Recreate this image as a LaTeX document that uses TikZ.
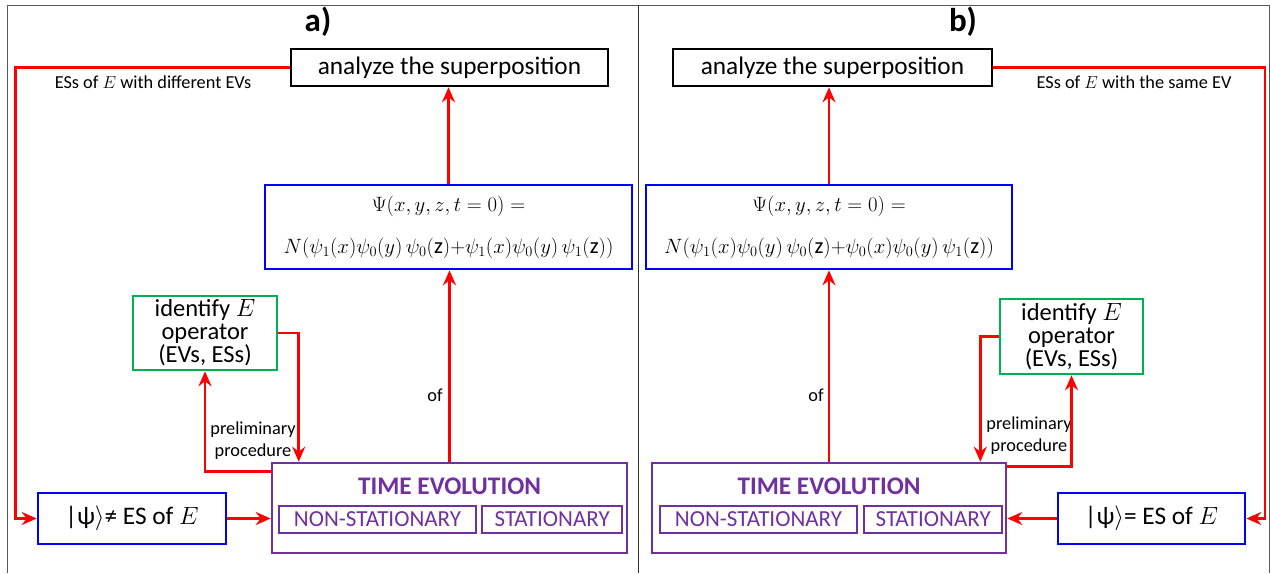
\documentclass[tikz,border=0pt]{standalone}
\usepackage{fontspec}
\setmainfont{Carlito}
\usetikzlibrary{positioning, arrows.meta}
\definecolor{offgreen}{RGB}{0,176,80}
\definecolor{offpurple}{RGB}{112,48,160}

\begin{document}
\begin{tikzpicture}[x=1pt, y=-1pt,
	box/.style={draw, line width=2.6pt, inner sep=0pt, align=center},
	subbox/.style={draw=offpurple, text=offpurple, line width=2.2pt, inner sep=0pt,
		minimum height=27pt, font=\fontsize{23}{25}\selectfont},
	arr/.style={draw=red, line width=2.6pt, -{Stealth[length=15pt,width=13pt,inset=5pt]}},
	lbl/.style={inner sep=0pt, align=center, font=\fontsize{18.3}{22}\selectfont},
	bigtext/.style={font=\fontsize{25.3}{21}\selectfont},
	idtext/.style={font=\fontsize{24.5}{23}\selectfont},
	eqtext/.style={font=\fontsize{22.5}{42}\selectfont},
	title/.style={font=\fontsize{33}{36}\selectfont\bfseries}
]

	\useasboundingbox (0,0) rectangle (1271,573);
	\draw[gray!70!black, line width=1pt] (7,573) -- (7,5) -- (1269,5) -- (1269,573);
	\draw[black!80, line width=1pt] (638,5) -- (638,573);

	% a)
	\node[title] (ta) at (318,22) {a)};
	\node[box, bigtext, minimum width=317pt, minimum height=37pt] (ana) at (449.5,67.5) {analyze the superposition};
	\node[box, eqtext, draw=blue, minimum width=367pt, minimum height=84pt] (psi) at (448.5,227)
		{$\Psi(x,y,z,t=0)=$\\$N(\psi_1(x)\psi_0(y)\,\psi_0(\mathrm{z}){+}\psi_1(x)\psi_0(y)\,\psi_1(\mathrm{z}))$};
	\node[box, idtext, draw=offgreen, minimum width=144pt, minimum height=74pt] (idf) at (205,333)
		{identify $E$\\operator\\(EVs, ESs)};
	\node[box, draw=offpurple, minimum width=355pt, minimum height=90pt] (te) at (449.5,508) {};
	\node[bigtext, text=offpurple, font=\fontsize{25.3}{21}\selectfont\bfseries] (tet) at (449.5,486) {TIME EVOLUTION};
	\node[subbox, minimum width=197pt] (ns) at (377.5,519.5) {NON-STATIONARY};
	\node[subbox, minimum width=140pt, right=4pt of ns] (st) {STATIONARY};
	\node[box, bigtext, draw=blue, minimum width=188pt, minimum height=51pt] (es) at (132,518.5)
		{|ψ$\rangle$≠ ES of $E$};
	\coordinate (la) at (15.5,67.5);

	\node[lbl] (d1) at (153,82) {ESs of $E$ with different EVs};
	\node[lbl] (p1) at (253,441) {preliminary\\procedure};
	\node[lbl] (o1) at (435,395) {of};

	\draw[arr] (te.north) -- (te.north |- psi.south);
	\draw[arr] (psi.north) -- (psi.north |- ana.south);
	\draw[arr] (ana.west) -- (la) |- (es.west);
	\draw[arr] (es.east) -- (es.east -| te.west);
	\draw[arr] ([yshift=-10pt]te.north west) -| (idf.south);
	\draw[arr] (idf.east) -| ([xshift=28pt]te.north west);

	% b)
	\node[title] (tb) at (963,22) {b)};
	\node[box, bigtext, minimum width=319pt, minimum height=37pt] (ana2) at (832.5,67.5) {analyze the superposition};
	\node[box, eqtext, draw=blue, minimum width=366pt, minimum height=84pt] (psi2) at (829,227)
		{$\Psi(x,y,z,t=0)=$\\$N(\psi_1(x)\psi_0(y)\,\psi_0(\mathrm{z}){+}\psi_0(x)\psi_0(y)\,\psi_1(\mathrm{z}))$};
	\node[box, idtext, draw=offgreen, minimum width=143pt, minimum height=75pt] (idf2) at (1071.5,336.5)
		{identify $E$\\operator\\(EVs, ESs)};
	\node[box, draw=offpurple, minimum width=354pt, minimum height=90pt] (te2) at (829,508) {};
	\node[bigtext, text=offpurple, font=\fontsize{25.3}{21}\selectfont\bfseries] (tet2) at (829,486) {TIME EVOLUTION};
	\node[subbox, minimum width=197pt] (ns2) at (758.5,519.5) {NON-STATIONARY};
	\node[subbox, minimum width=138pt, right=5pt of ns2] (st2) {STATIONARY};
	\node[box, bigtext, draw=blue, minimum width=187pt, minimum height=51pt] (es2) at (1151.5,518.5)
		{|ψ$\rangle$= ES of $E$};
	\coordinate (ra) at (1265,67.5);

	\node[lbl] (d2) at (1134,82) {ESs of $E$ with the same EV};
	\node[lbl] (p2) at (1029,436) {preliminary\\procedure};
	\node[lbl] (o2) at (816,395) {of};

	\draw[arr] (te2.north) -- (te2.north |- psi2.south);
	\draw[arr] (psi2.north) -- (psi2.north |- ana2.south);
	\draw[arr] (ana2.east) -- (ra) |- (es2.east);
	\draw[arr] (es2.west) -- (es2.west -| te2.east);
	\draw[arr] ([yshift=-5pt]te2.north east) -| (idf2.south);
	\draw[arr] (idf2.west) -| ([xshift=-27pt]te2.north east);

\end{tikzpicture}
\end{document}
